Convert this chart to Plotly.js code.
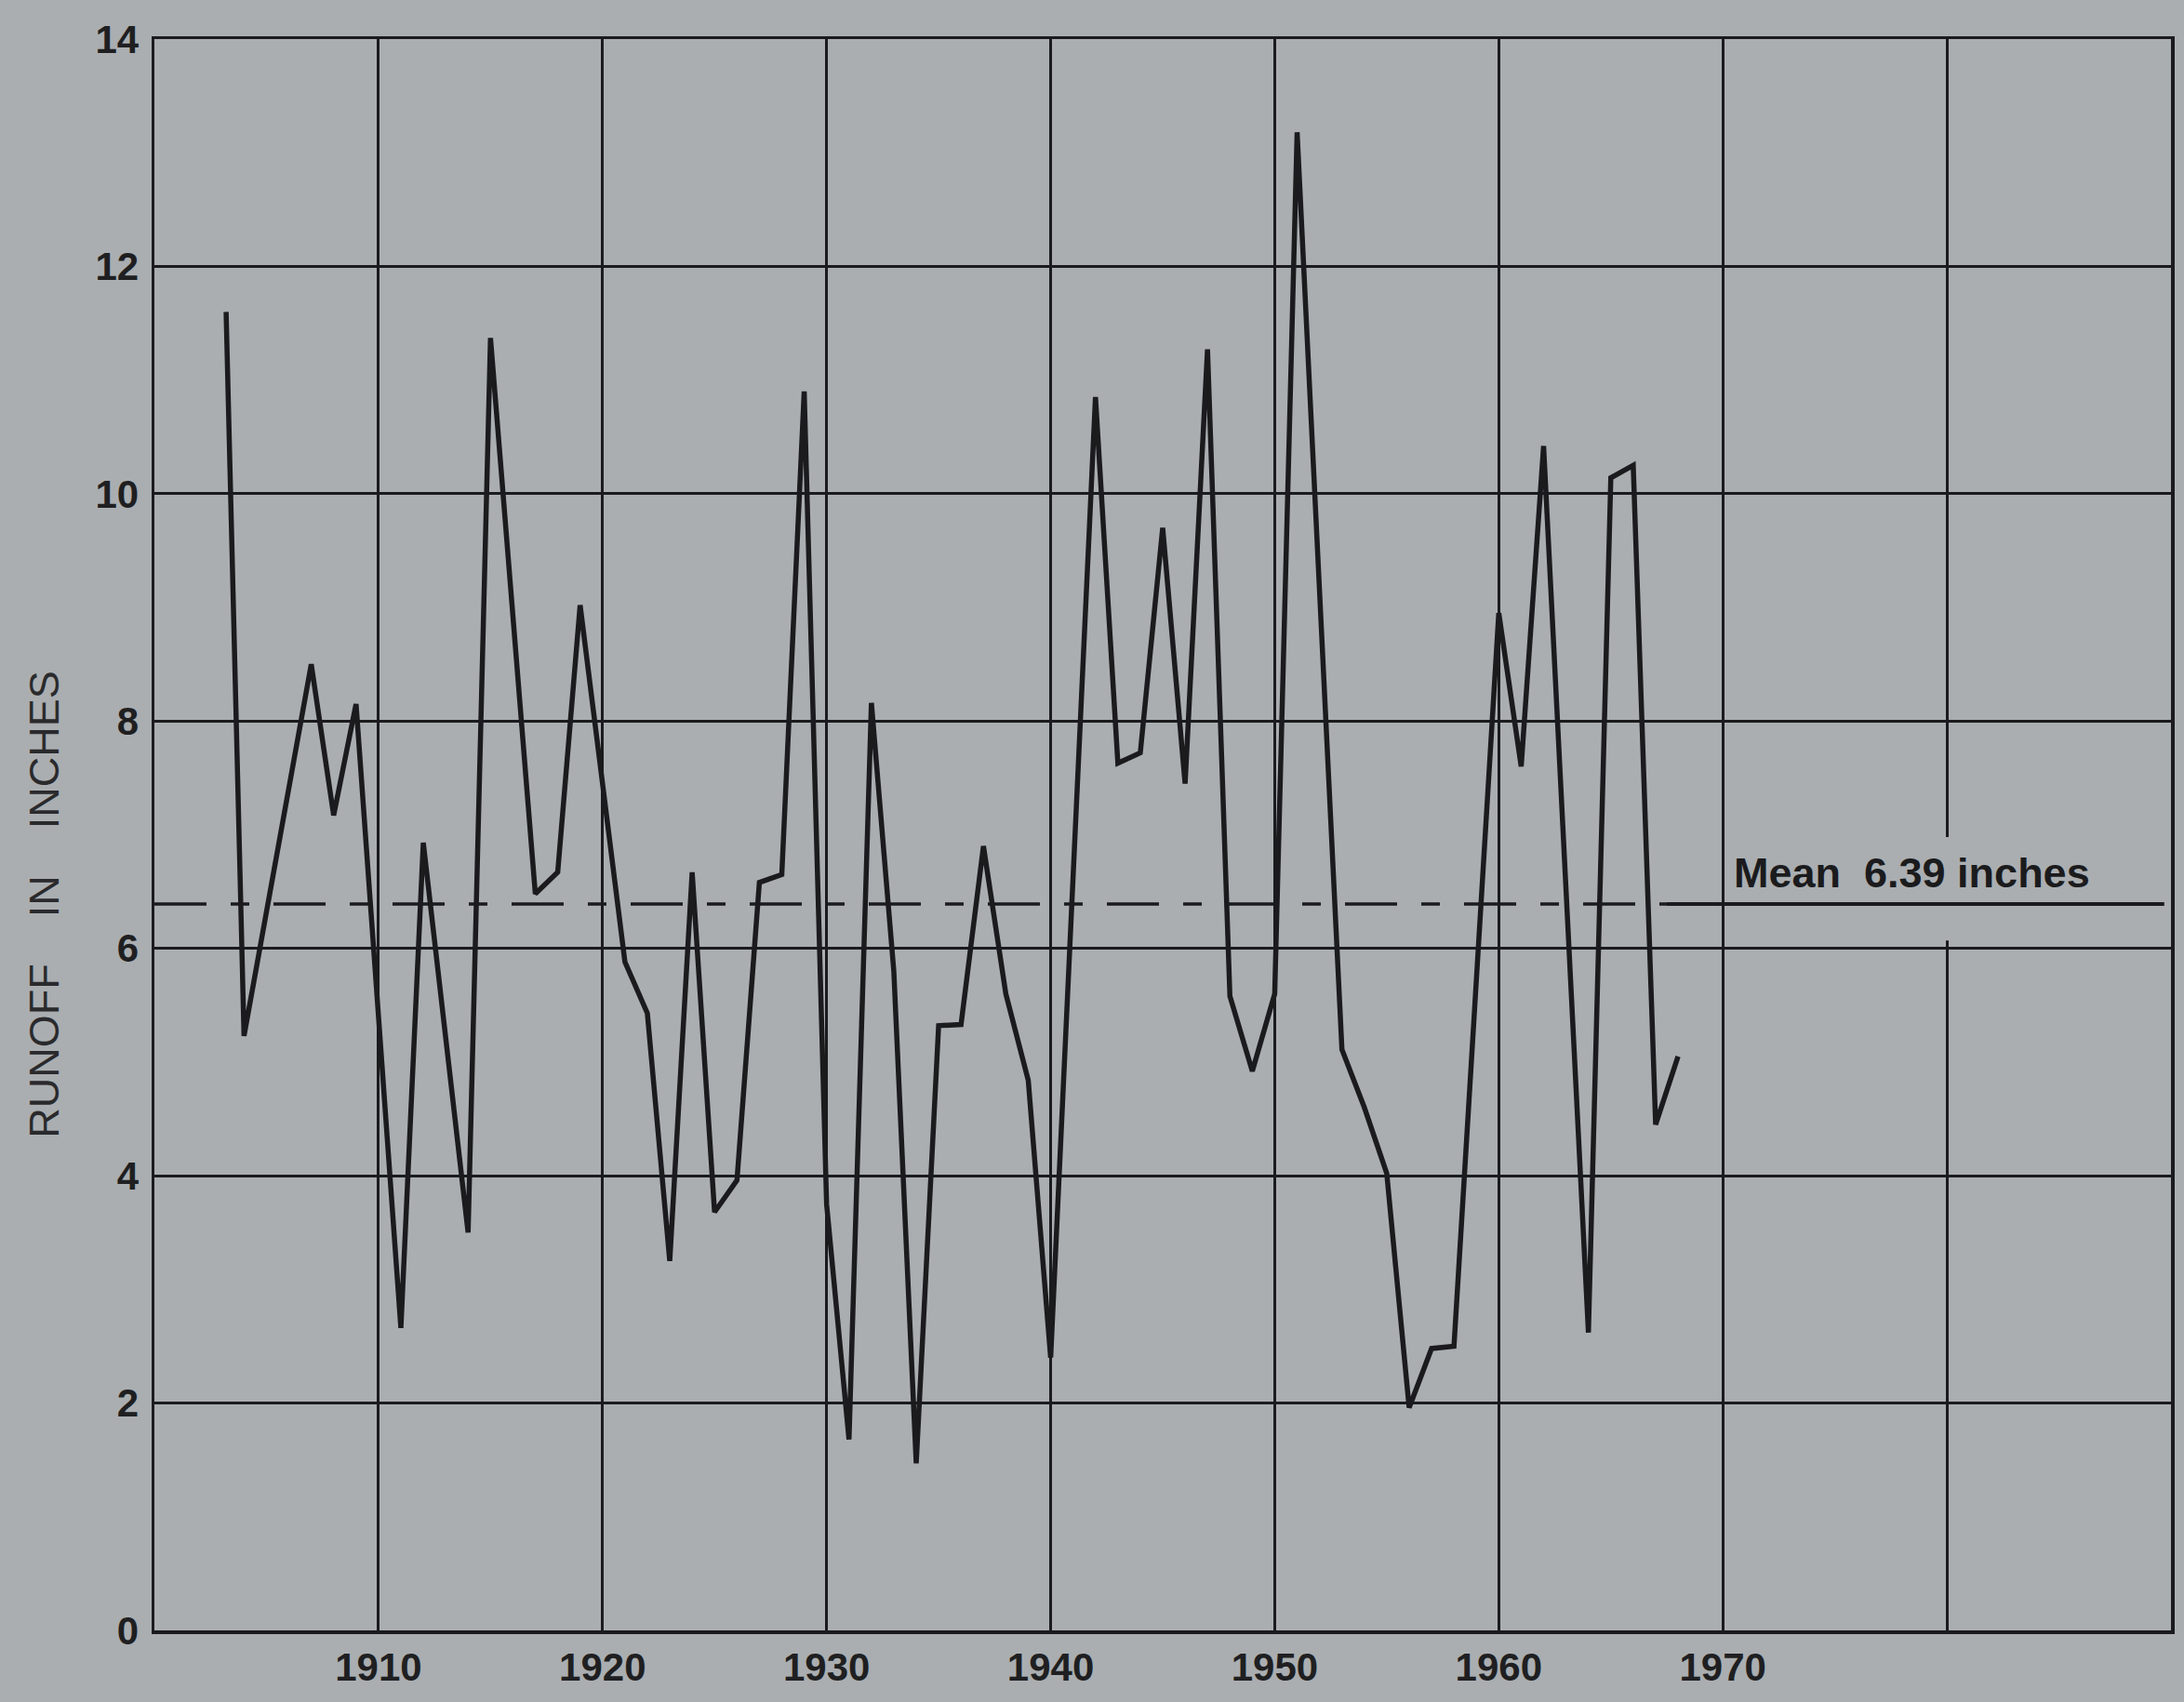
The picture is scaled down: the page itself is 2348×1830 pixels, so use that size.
<!DOCTYPE html>
<html>
<head>
<meta charset="utf-8">
<script src="https://cdn.plot.ly/plotly-3.0.1.min.js"></script>
<style>
  html, body { margin: 0; padding: 0; background: #aaaeb1; }
  #chart { width: 2348px; height: 1830px; }
</style>
</head>
<body>
<div id="chart"></div>
<script>
// Annual runoff (inches), vertices
const years = [1903.2, 1904, 1907, 1908, 1909, 1911, 1912, 1914, 1915, 1917, 1918, 1919,
  1921, 1922, 1923, 1924, 1925, 1926, 1927, 1928, 1929, 1930, 1931, 1932, 1933, 1934,
  1935, 1936, 1937, 1938, 1939, 1940, 1942, 1943, 1944, 1945, 1946, 1947, 1948, 1949,
  1950, 1951, 1953, 1954, 1955, 1956, 1957, 1958, 1960, 1961, 1962, 1964, 1965, 1966,
  1967, 1968];
const runoff = [11.6, 5.23, 8.5, 7.17, 8.15, 2.66, 6.93, 3.5, 11.37, 6.48, 6.67, 9.02,
  5.88, 5.43, 3.25, 6.67, 3.68, 3.96, 6.58, 6.65, 10.9, 3.75, 1.68, 8.16, 5.8, 1.47,
  5.32, 5.33, 6.9, 5.6, 4.84, 2.4, 10.85, 7.63, 7.72, 9.7, 7.45, 11.27, 5.58, 4.92,
  5.6, 13.18, 5.11, 4.6, 4.02, 1.96, 2.48, 2.5, 8.95, 7.6, 10.42, 2.62, 10.14, 10.25,
  4.45, 5.05];

const meanRunoff = 6.39;
const meanDashedYears = [1900, 1967.5];
const meanSolidYears = [1967.5, 1989.7];

const xTickVals = [1900, 1910, 1920, 1930, 1940, 1950, 1960, 1970, 1980, 1990];
const xTickText = ["", "1910", "1920", "1930", "1940", "1950", "1960", "1970", "", ""];
const yTickVals = [0, 2, 4, 6, 8, 10, 12, 14];

const meanLabel = "Mean\u00a0\u00a06.39 inches";
const yTitle = "RUNOFF\u00a0\u00a0\u00a0\u00a0IN\u00a0\u00a0\u00a0\u00a0INCHES";

const ink = "#1b1b1d";
const bg = "#aaaeb1";
const fontFamily = "'Liberation Sans', Arial, sans-serif";

const traces = [
  {
    x: meanDashedYears, y: meanDashedYears.map(() => meanRunoff),
    mode: "lines", type: "scatter", hoverinfo: "skip", showlegend: false,
    line: { color: ink, width: 3.5, dash: "56px,26px,20px,26px" }
  },
  {
    x: meanSolidYears, y: meanSolidYears.map(() => meanRunoff),
    mode: "lines", type: "scatter", hoverinfo: "skip", showlegend: false,
    line: { color: ink, width: 4 }
  },
  {
    x: years, y: runoff, name: "Runoff",
    mode: "lines", type: "scatter", showlegend: false,
    line: { color: ink, width: 5.5, shape: "linear" }
  }
];

const layout = {
  width: 2348, height: 1830,
  paper_bgcolor: bg, plot_bgcolor: bg,
  margin: { l: 166, r: 14, t: 42, b: 77 },
  showlegend: false,
  font: { family: fontFamily, color: ink },
  xaxis: {
    range: [1900, 1990], tickmode: "array", tickvals: xTickVals, ticktext: xTickText,
    showgrid: true, gridcolor: ink, gridwidth: 3,
    showline: true, linecolor: ink, linewidth: 3.5, mirror: true,
    zeroline: false, ticks: "", ticklabelstandoff: 0,
    tickfont: { size: 42, color: "#1f1f21", family: fontFamily, weight: "bold" }
  },
  yaxis: {
    range: [0, 14], tickmode: "array", tickvals: yTickVals,
    showgrid: true, gridcolor: ink, gridwidth: 3,
    showline: true, linecolor: ink, linewidth: 3.5, mirror: true,
    zeroline: false, ticks: "", ticklabelstandoff: 5,
    tickfont: { size: 42, color: "#1f1f21", family: fontFamily, weight: "bold" },
    title: { text: "" }
  },
  shapes: [
    {
      type: "rect", layer: "between", xref: "x", yref: "y",
      x0: 1979.6, x1: 1980.4, y0: 6.07, y1: 6.98,
      fillcolor: bg, line: { width: 0 }
    }
  ],
  annotations: [
    {
      x: 1970.4, y: meanRunoff, xref: "x", yref: "y",
      text: meanLabel, showarrow: false, xanchor: "left", yanchor: "bottom", yshift: 6,
      font: { size: 45, color: ink, family: fontFamily, weight: "bold" }
    },
    {
      x: -0.0544, y: 0.456, xref: "paper", yref: "paper",
      text: yTitle, textangle: -90, showarrow: false, xanchor: "center", yanchor: "middle",
      font: { size: 45, color: "#2a2a2c", family: fontFamily }
    }
  ]
};

Plotly.newPlot("chart", traces, layout, { staticPlot: true, displayModeBar: false });
</script>
</body>
</html>
